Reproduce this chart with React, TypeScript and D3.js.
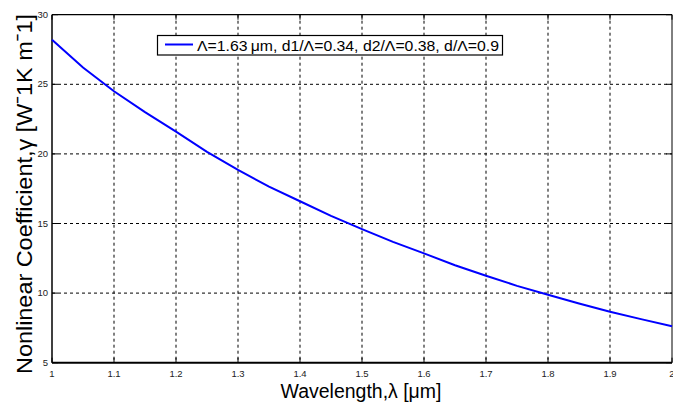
import React from "react";
import * as d3 from "d3";

const wavelength = [1.0, 1.05, 1.1, 1.15, 1.2, 1.25, 1.3, 1.35, 1.4, 1.45, 1.5, 1.55, 1.6, 1.65, 1.7, 1.75, 1.8, 1.85, 1.9, 1.95, 2.0];
const gamma = [28.2, 26.2, 24.5, 23.0, 21.6, 20.15, 18.85, 17.65, 16.6, 15.55, 14.6, 13.68, 12.85, 12.0, 11.25, 10.52, 9.88, 9.25, 8.66, 8.13, 7.62];
const xTicks = [1, 1.1, 1.2, 1.3, 1.4, 1.5, 1.6, 1.7, 1.8, 1.9, 2];
const yTicks = [5, 10, 15, 20, 25, 30];
const legendLabel = "\u039B=1.63\u2009\u03BCm,  d1/\u039B=0.34, d2/\u039B=0.38, d/\u039B=0.9";
const xLabel = "Wavelength,\u03BB [\u03BCm]";
const yLabel = "Nonlinear Coefficient,\u03B3 [W\u02C91K m\u02C91]";

export default function App() {
  const W = 673, H = 407;
  const L = 52, R = 672, T = 14.7, B = 362.7;
  const x = d3.scaleLinear().domain([1, 2]).range([L, R]);
  const y = d3.scaleLinear().domain([5, 30]).range([B, T]);
  const line = d3.line<number>().x((_, i) => x(wavelength[i])).y((d) => y(d));
  const font = "Liberation Sans, Arial, sans-serif";
  return (
    <svg width={W} height={H} style={{ position: "absolute", left: 0, top: 0 }} fontFamily={font}>
      <rect width={W} height={H} fill="#fff" />
      {xTicks.slice(1, -1).map((t) => (
        <line key={"gx" + t} x1={x(t)} x2={x(t)} y1={T} y2={B} stroke="#000" strokeWidth={1} strokeDasharray="3,3" />
      ))}
      {yTicks.slice(1, -1).map((t) => (
        <line key={"gy" + t} x1={L} x2={R} y1={y(t)} y2={y(t)} stroke="#000" strokeWidth={1} strokeDasharray="3,3" />
      ))}
      {xTicks.map((t) => (
        <g key={"tx" + t}>
          <line x1={x(t)} x2={x(t)} y1={B} y2={B - 5} stroke="#000" />
          <line x1={x(t)} x2={x(t)} y1={T} y2={T + 5} stroke="#000" />
          <text x={x(t)} y={377} fontSize={9.5} textAnchor="middle" fill="#222">{t}</text>
        </g>
      ))}
      {yTicks.map((t) => (
        <g key={"ty" + t}>
          <line x1={L} x2={L + 6} y1={y(t)} y2={y(t)} stroke="#000" />
          <line x1={R - 6} x2={R} y1={y(t)} y2={y(t)} stroke="#000" />
          <text x={48} y={y(t) + 3} fontSize={9.5} textAnchor="end" fill="#222">{t}</text>
        </g>
      ))}
      <line x1={L} x2={R} y1={T} y2={T} stroke="#000" strokeWidth={1.3} />
      <line x1={L} x2={L} y1={T} y2={B} stroke="#000" strokeWidth={1.5} />
      <line x1={R} x2={R} y1={T} y2={B} stroke="#000" strokeWidth={1} />
      <line x1={L} x2={R} y1={B} y2={B} stroke="#000" strokeWidth={2} />
      <path d={line(gamma) || ""} fill="none" stroke="#0000ff" strokeWidth={2} />
      <rect x={157.5} y={35.5} width={345} height={19.5} fill="#fff" stroke="#000" strokeWidth={1.2} />
      <line x1={165} x2={193} y1={44.5} y2={44.5} stroke="#0000ff" strokeWidth={2} />
      <text x={197} y={50.5} fontSize={15} fill="#000" textLength={302} lengthAdjust="spacingAndGlyphs">{legendLabel}</text>
      <text x={361} y={397.5} fontSize={20} textAnchor="middle" fill="#000" textLength={161} lengthAdjust="spacingAndGlyphs">{xLabel}</text>
      <text transform="translate(32,194) rotate(-90)" fontSize={22.5} textAnchor="middle" fill="#000" textLength={360} lengthAdjust="spacingAndGlyphs">{yLabel}</text>
    </svg>
  );
}
